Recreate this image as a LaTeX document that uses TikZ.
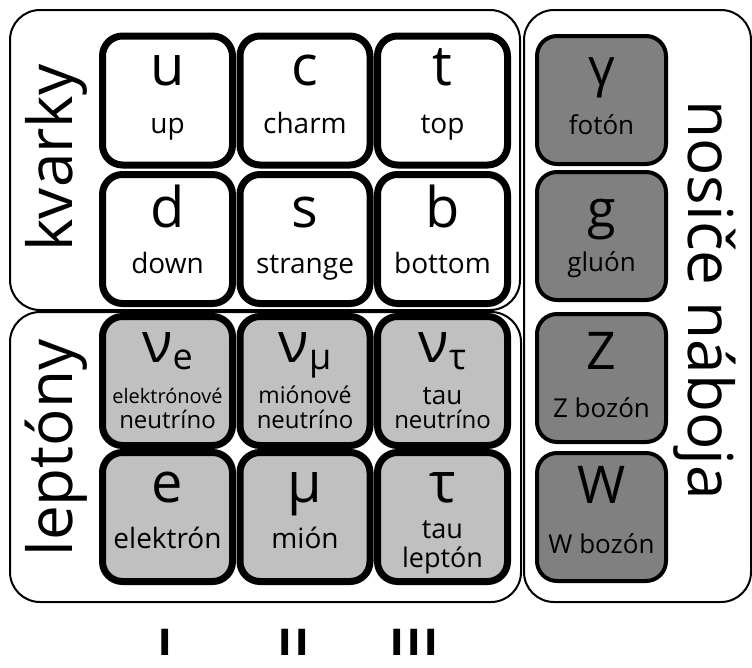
\documentclass[tikz,border=0pt]{standalone}
\usepackage{fontspec}
\setmainfont{Open Sans}
\newfontfamily\genfont{DejaVu Sans}[LetterSpace=10]
\newcommand\myfs[1]{\fontsize{#1}{#1}\selectfont}
\definecolor{lepgray}{HTML}{C0C0C0}
\definecolor{bosgray}{HTML}{808080}
\begin{document}
\begin{tikzpicture}[x=1pt,y=-1pt,
  outer/.style={draw, line width=2pt, rounded corners=30pt},
  qbox/.style={draw, line width=7pt, rounded corners=20pt, fill=white,
    minimum width=130pt, minimum height=129pt, inner sep=0pt},
  lbox/.style={qbox, fill=lepgray},
  bbox/.style={draw, line width=4pt, rounded corners=20pt, fill=bosgray,
    minimum width=129pt, minimum height=128pt, inner sep=0pt},
  sym/.style={anchor=base, inner sep=0pt, font=\myfs{56}},
  bsym/.style={anchor=base, inner sep=0pt, font=\myfs{52}},
  lab/.style={anchor=base, inner sep=0pt, font=\myfs{28}},
  blab/.style={anchor=base, inner sep=0pt, font=\myfs{26}},
  side/.style={anchor=base, inner sep=0pt, font=\myfs{62}},
  gen/.style={anchor=base, inner sep=0pt, font=\genfont\bfseries\myfs{36}}
]
\useasboundingbox (0,0) rectangle (752,667);
% group frames
\draw[outer] (10,10) rectangle (520,310);
\draw[outer] (10,312) rectangle (521,602);
\draw[outer] (524,10) rectangle (751,602);
% quarks
\node[qbox] (u) at (167.5,100.5) {};
\node[qbox] (c) at (305,100.5) {};
\node[qbox] (t) at (442.5,100.5) {};
\node[qbox] (d) at (167.5,239) {};
\node[qbox] (s) at (305,239) {};
\node[qbox] (b) at (442.5,239) {};
% leptons
\node[lbox] (ne) at (167.5,381) {};
\node[lbox] (nm) at (305,381) {};
\node[lbox] (nt) at (442.5,381) {};
\node[lbox] (e) at (167.5,517) {};
\node[lbox] (m) at (305,517) {};
\node[lbox] (ta) at (442.5,517) {};
% bosons
\node[bbox] (ga) at (601.5,100) {};
\node[bbox] (g) at (601.5,236) {};
\node[bbox] (Z) at (601.5,378) {};
\node[bbox] (W) at (601.5,517) {};
% quark texts
\node[sym] (uS) at (167.5,85) {u};
\node[lab] (uL) at (167.5,133) {up};
\node[sym] (cS) at (305,85) {c};
\node[lab] (cL) at (305,133) {charm};
\node[sym] (tS) at (442.5,85) {t};
\node[lab] (tL) at (442.5,133) {top};
\node[sym] (dS) at (167.5,227) {d};
\node[lab] (dL) at (167.5,273) {down};
\node[sym] (sS) at (305,227) {s};
\node[lab] (sL) at (305,273) {strange};
\node[sym] (bS) at (442.5,227) {b};
\node[lab] (bL) at (442.5,273) {bottom};
% lepton texts
\node[sym] (neS) at (167.5,362) {ν{\myfs{36}\raisebox{-7pt}{e}}};
\node[anchor=base, inner sep=0pt, font=\myfs{20}] (neL1) at (167.5,403) {elektrónové};
\node[anchor=base, inner sep=0pt, font=\myfs{24}] (neL2) at (167.5,428) {neutríno};
\node[sym] (nmS) at (305,362) {ν{\myfs{36}\raisebox{-7pt}{μ}}};
\node[anchor=base, inner sep=0pt, font=\myfs{23}] (nmL1) at (305,403) {miónové};
\node[anchor=base, inner sep=0pt, font=\myfs{24}] (nmL2) at (305,428) {neutríno};
\node[sym] (ntS) at (442.5,362) {ν{\myfs{36}\raisebox{-7pt}{τ}}};
\node[anchor=base, inner sep=0pt, font=\myfs{26}] (ntL1) at (442.5,404) {tau};
\node[anchor=base, inner sep=0pt, font=\myfs{24}] (ntL2) at (442.5,428) {neutríno};
\node[sym] (eS) at (167.5,502) {e};
\node[lab] (eL) at (167.5,548) {elektrón};
\node[sym] (mS) at (305,502) {μ};
\node[lab] (mL) at (305,548) {mión};
\node[sym] (taS) at (442.5,502) {τ};
\node[anchor=base, inner sep=0pt, font=\myfs{27}] (taL1) at (442.5,538) {tau};
\node[anchor=base, inner sep=0pt, font=\myfs{27}] (taL2) at (442.5,567) {leptón};
% boson texts
\node[bsym] (gaS) at (601.5,85) {γ};
\node[blab] (gaL) at (601.5,134) {fotón};
\node[bsym] (gS) at (601.5,227) {g};
\node[blab] (gL) at (601.5,271) {gluón};
\node[bsym] (ZS) at (601.5,369) {Z};
\node[blab] (ZL) at (601.5,417) {Z bozón};
\node[bsym] (WS) at (601.5,503) {W};
\node[blab] (WL) at (601.5,553) {W bozón};
% side labels
\node[side, rotate=90] (kv) at (72,158) {kvarky};
\node[side, rotate=90] (le) at (72,448) {leptóny};
\node[side, rotate=-90] (no) at (688,300) {nosiče náboja};
% generations
\node[gen] (g1) at (165,655) {I};
\node[gen] (g2) at (294,655) {II};
\node[gen] (g3) at (414,655) {III};
\end{tikzpicture}
\end{document}
